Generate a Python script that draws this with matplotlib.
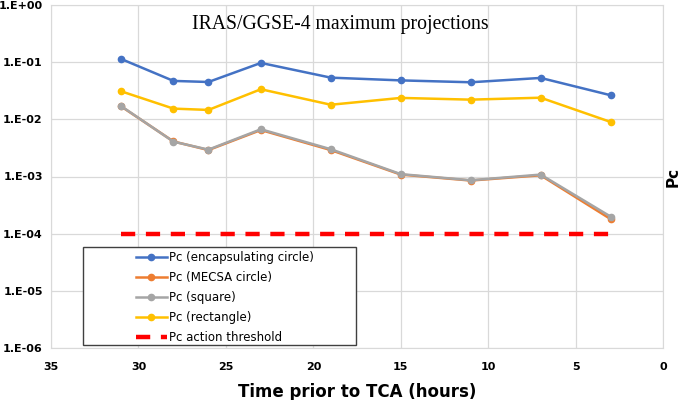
import numpy as np
import matplotlib
matplotlib.use('Agg')
import matplotlib.pyplot as plt
from matplotlib.patches import Rectangle
from matplotlib.ticker import FixedLocator, FuncFormatter

plt.rc('font', family='DejaVu Sans')

# hours before TCA
hours = [31, 28, 26, 23, 19, 15, 11, 7, 3]
pc_encap = [0.114, 0.047, 0.045, 0.097, 0.0536, 0.048, 0.0445, 0.053, 0.0264]
pc_mecsa = [0.0169, 0.0041, 0.0029, 0.0065, 0.0029, 0.00108, 0.00085, 0.00105, 0.00018]
pc_square = [0.0171, 0.00407, 0.00295, 0.0067, 0.0030, 0.0011, 0.00086, 0.00108, 0.000199]
pc_rect = [0.031, 0.0154, 0.0146, 0.0336, 0.018, 0.0237, 0.0221, 0.0239, 0.009]
thresh_hours = [31, 3]
thresh = [1e-4, 1e-4]

ytick_vals = [1e0, 1e-1, 1e-2, 1e-3, 1e-4, 1e-5, 1e-6]
ytick_labels = ['1.E+00', '1.E-01', '1.E-02', '1.E-03', '1.E-04', '1.E-05', '1.E-06']

fig = plt.figure(figsize=(6.85, 4.0), dpi=100)
ax = fig.add_axes([0.0745, 0.13, 0.8935, 0.8575])

ms = 4.5
ax.plot(hours, pc_encap, color='#4472C4', marker='o', ms=ms, lw=1.8, label='Pc (encapsulating circle)')
ax.plot(hours, pc_mecsa, color='#ED7D31', marker='o', ms=ms, lw=1.8, label='Pc (MECSA circle)')
ax.plot(hours, pc_square, color='#A5A5A5', marker='o', ms=ms, lw=1.8, label='Pc (square)')
ax.plot(hours, pc_rect, color='#FFC000', marker='o', ms=ms, lw=1.8, label='Pc (rectangle)')
ax.plot(thresh_hours, thresh, color='#FF0000', lw=3.2, dashes=(3.2, 2.4), label='Pc action threshold')

ax.set_yscale('log')
ax.set_ylim(1e-6, 1)
ax.set_xlim(35, 0)
ax.yaxis.set_major_locator(FixedLocator(ytick_vals))
ax.yaxis.set_major_formatter(FuncFormatter(lambda v, p: ytick_labels[ytick_vals.index(v)] if v in ytick_vals else ''))
ax.yaxis.set_minor_locator(FixedLocator([]))
ax.set_xticks([35, 30, 25, 20, 15, 10, 5, 0])

ax.grid(True, color='#D9D9D9', lw=0.9)
ax.set_axisbelow(True)
for s in ax.spines.values():
    s.set_color('#D9D9D9')
ax.tick_params(length=0, labelsize=8, pad=6)
for lab in ax.get_xticklabels() + ax.get_yticklabels():
    lab.set_fontweight('bold')
ax.tick_params(axis='x', pad=10)

ax.set_xlabel('Time prior to TCA (hours)', fontsize=12, fontweight='bold', labelpad=8)
ax.yaxis.set_label_position('right')
ax.set_ylabel('Pc', fontsize=11, fontweight='bold', labelpad=2)

ax.text(0.473, 0.97, 'IRAS/GGSE-4 maximum projections', transform=ax.transAxes,
        ha='center', va='top', fontsize=14.2, family='Liberation Serif')

# legend box is wider than its entries; entries sit to the right
box = Rectangle((0.052, 0.009), 0.446, 0.285, transform=ax.transAxes,
                facecolor='white', edgecolor='#404040', lw=1.0, zorder=5)
ax.add_patch(box)
leg = ax.legend(loc='upper left', bbox_to_anchor=(0.135, 0.29), fontsize=8.5,
                frameon=False, handlelength=2.6, handletextpad=0.2,
                labelspacing=0.6, borderaxespad=0, borderpad=0.2)
leg.set_zorder(6)

fig.savefig('out.png', dpi=100)
